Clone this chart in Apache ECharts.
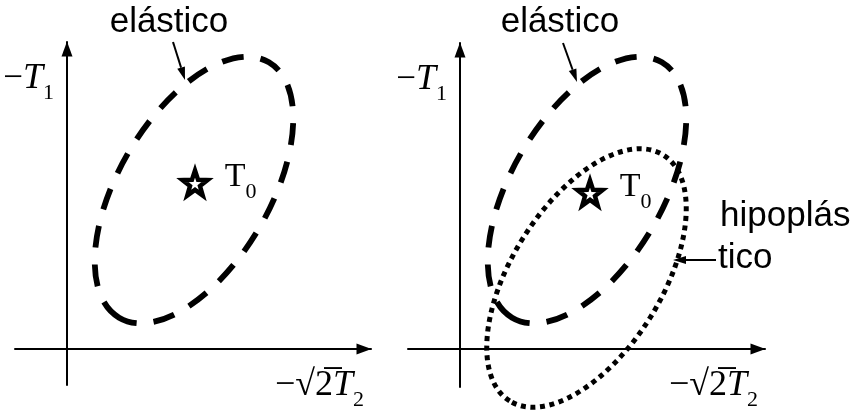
<!DOCTYPE html>
<html>
<head>
<meta charset="utf-8">
<script src="https://cdn.jsdelivr.net/npm/echarts@6/dist/echarts.min.js"></script>
<style>
  html, body { margin: 0; padding: 0; background: #fff; }
  #chart { width: 854px; height: 416px; }
</style>
</head>
<body>
<div id="chart"></div>
<script>
// Stress-state regions in the (−√2·T2, −T1) plane, shown in two panels.
// Each region: [centre x, centre y, semi-major, semi-minor, tilt (deg)]
const elasticLeft = [12.7, 15.9, 14.8, 7.55, 59.6];
const elasticRight = [12.7, 15.9, 14.8, 7.55, 59.6];
const hypoplasticRight = [12.65, 7.1, 14.5, 7.5, 58.0];

// Initial stress state T0 in each panel
const t0Left = [12.8, 16.6];
const t0Right = [13.0, 15.6];

// Annotation texts
const elasticName = 'elástico';
const hypoNameTop = 'hipoplás';
const hypoNameBottom = 'tico';

const serif = '"Liberation Serif", "Times New Roman", serif';
const sans = '"Liberation Sans", Arial, sans-serif';

const starPath = 'path://M0,-10 L2.35,-3.24 L9.51,-3.09 L3.8,1.24 L5.88,8.09 L0,4 L-5.88,8.09 L-3.8,1.24 L-9.51,-3.09 L-2.35,-3.24 Z';

function axisLineStyle() {
  return {
    onZero: true,
    symbol: ['none', 'triangle'],
    symbolSize: [11, 15],
    symbolOffset: [0, -7],
    lineStyle: { color: '#000', width: 2 }
  };
}

const yName = {
  name: '{m|\u2212}{t|T}{s|1}',
  nameLocation: 'end',
  nameGap: -37,
  nameTextStyle: {
    color: '#000', fontFamily: serif, fontSize: 35,
    align: 'right', verticalAlign: 'middle', padding: [0, 13, 0, 0],
    rich: {
      m: { fontFamily: serif, fontSize: 35, color: '#000' },
      t: { fontFamily: serif, fontSize: 36, fontStyle: 'italic', color: '#000' },
      s: { fontFamily: serif, fontSize: 22, color: '#000', verticalAlign: 'bottom', padding: [0, 0, -7, 0] }
    }
  }
};

const xName = {
  name: '{m|\u2212\u221A}{r|2\u0305}{t|T}{s|2}',
  nameLocation: 'end',
  nameGap: -7,
  nameTextStyle: {
    color: '#000', fontFamily: serif, fontSize: 35,
    align: 'right', verticalAlign: 'top', padding: [19, 0, 0, 0],
    rich: {
      m: { fontFamily: serif, fontSize: 36, color: '#000' },
      r: { fontFamily: serif, fontSize: 36, color: '#000' },
      t: { fontFamily: serif, fontSize: 36, fontStyle: 'italic', color: '#000' },
      s: { fontFamily: serif, fontSize: 22, color: '#000', verticalAlign: 'bottom', padding: [0, 0, -7, 0] }
    }
  }
};

function makeXAxis(gridIndex, min, max) {
  return Object.assign({
    type: 'value', gridIndex, min, max,
    axisLine: axisLineStyle(),
    axisTick: { show: false }, axisLabel: { show: false }, splitLine: { show: false }
  }, xName);
}
function makeYAxis(gridIndex, min, max) {
  return Object.assign({
    type: 'value', gridIndex, min, max,
    axisLine: axisLineStyle(),
    axisTick: { show: false }, axisLabel: { show: false }, splitLine: { show: false }
  }, yName);
}

function ellipseItem(style) {
  return function (params, api) {
    const c = api.coord([api.value(0), api.value(1)]);
    const rx = api.size([api.value(2), 0])[0];
    const ry = api.size([0, api.value(3)])[1];
    return {
      type: 'ellipse',
      x: c[0], y: c[1],
      rotation: api.value(4) * Math.PI / 180,
      shape: { cx: 0, cy: 0, rx: rx, ry: ry },
      style: Object.assign({ fill: 'none', stroke: '#000' }, style)
    };
  };
}

const dashed = { lineWidth: 5.8, lineDash: [22, 17], lineCap: 'butt' };
const dotted = { lineWidth: 5, lineDash: [5, 4.6], lineCap: 'butt' };

function starSeries(gridIndex, point) {
  return {
    type: 'scatter', xAxisIndex: gridIndex, yAxisIndex: gridIndex,
    data: [point],
    symbol: starPath, symbolSize: 25,
    itemStyle: { color: '#fff', borderColor: '#000', borderWidth: 4.5, borderJoin: 'miter', opacity: 1 },
    label: {
      show: true, position: 'right', distance: 15, offset: [0, -6], color: '#000', opacity: 1,
      formatter: '{t|T}{s|0}',
      rich: {
        t: { fontFamily: serif, fontSize: 34, color: '#000' },
        s: { fontFamily: serif, fontSize: 22, color: '#000', verticalAlign: 'bottom', padding: [0, 0, -9, 0] }
      }
    },
    emphasis: { disabled: true },
    silent: true, z: 5
  };
}

const chart = echarts.init(document.getElementById('chart'), null, { renderer: 'canvas' });

chart.setOption({
  backgroundColor: '#fff',
  animation: false,
  grid: [
    { left: 15, top: 42, width: 356, height: 343 },
    { left: 408, top: 43, width: 357, height: 344 }
  ],
  xAxis: [makeXAxis(0, -5.2, 30.4), makeXAxis(1, -5.2, 30.5)],
  yAxis: [makeYAxis(0, -3.6, 30.7), makeYAxis(1, -3.8, 30.6)],
  series: [
    { type: 'custom', name: elasticName, xAxisIndex: 0, yAxisIndex: 0, clip: false,
      renderItem: ellipseItem(dashed), data: [elasticLeft], silent: true },
    { type: 'custom', name: elasticName, xAxisIndex: 1, yAxisIndex: 1, clip: false,
      renderItem: ellipseItem(dashed), data: [elasticRight], silent: true },
    { type: 'custom', name: hypoNameTop + hypoNameBottom, xAxisIndex: 1, yAxisIndex: 1, clip: false,
      renderItem: ellipseItem(dotted), data: [hypoplasticRight], silent: true },
    starSeries(0, t0Left),
    starSeries(1, t0Right)
  ]
});

// Annotations, anchored in each panel's data coordinates
function arrow(gridIndex, from, to) {
  const a = chart.convertToPixel({ gridIndex }, from);
  const b = chart.convertToPixel({ gridIndex }, to);
  const dx = b[0] - a[0], dy = b[1] - a[1];
  const len = Math.sqrt(dx * dx + dy * dy);
  const ux = dx / len, uy = dy / len;
  const headLen = 13, headHalf = 4;
  const bx = b[0] - ux * headLen, by = b[1] - uy * headLen;
  return [
    { type: 'line', shape: { x1: a[0], y1: a[1], x2: bx, y2: by },
      style: { stroke: '#000', lineWidth: 2 }, silent: true },
    { type: 'polygon', shape: { points: [
        [b[0], b[1]],
        [bx - uy * headHalf, by + ux * headHalf],
        [bx + uy * headHalf, by - ux * headHalf]
      ] }, style: { fill: '#000' }, silent: true }
  ];
}
function label(gridIndex, at, text, align) {
  const p = chart.convertToPixel({ gridIndex }, at);
  return { type: 'text', x: p[0], y: p[1], silent: true,
    style: { text, fill: '#000', font: '35px ' + sans, align: align, verticalAlign: 'middle' } };
}

chart.setOption({
  graphic: [].concat(
    label(0, [10.2, 32.7], elasticName, 'center'),
    arrow(0, [10.6, 30.7], [11.8, 26.9]),
    label(1, [10.0, 32.7], elasticName, 'center'),
    arrow(1, [10.3, 30.6], [11.7, 26.7]),
    label(1, [26.0, 13.3], hypoNameTop, 'left'),
    label(1, [25.8, 9.1], hypoNameBottom, 'left'),
    arrow(1, [25.6, 8.9], [21.3, 8.9])
  )
});
</script>
</body>
</html>
